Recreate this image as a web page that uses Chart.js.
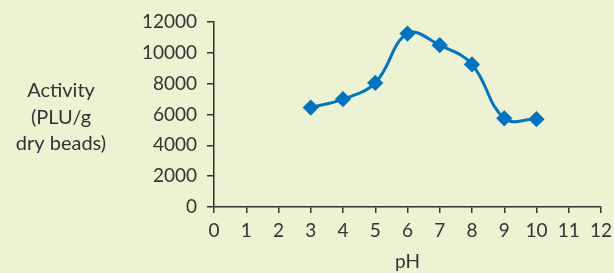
<!DOCTYPE html>
<html>
<head>
<meta charset="utf-8">
<script src="https://cdn.jsdelivr.net/npm/chart.js@4/dist/chart.umd.min.js"></script>
<style>
  html, body { margin: 0; padding: 0; background: #EDF2D3; }
  #wrap { position: relative; width: 614px; height: 273px; }
</style>
</head>
<body>
<div id="wrap"><canvas id="c" width="614" height="273"></canvas></div>
<script>
const pHValues = [3, 4, 5, 6, 7, 8, 9, 10];
const activity = [6450, 7000, 8050, 11250, 10500, 9250, 5750, 5700];
const xTicks = [0, 1, 2, 3, 4, 5, 6, 7, 8, 9, 10, 11, 12];
const yTicks = [0, 2000, 4000, 6000, 8000, 10000, 12000];
const yTitleLines = ['Activity', '(PLU/g', 'dry beads)'];
const xTitle = 'pH';

const FONT = "Lato, 'Open Sans', sans-serif";
const FSIZE = 19;
const TEXT = '#333333';

const yTitlePlugin = {
  id: 'yTitle',
  afterDraw(chart) {
    const ctx = chart.ctx;
    ctx.save();
    ctx.fillStyle = TEXT;
    ctx.font = "20px " + FONT;
    ctx.textAlign = 'center';
    ctx.textBaseline = 'middle';
    const cx = 61, top = 91, step = 26.5;
    yTitleLines.forEach((t, i) => ctx.fillText(t, cx, top + i * step));
    ctx.restore();
  }
};

new Chart(document.getElementById('c'), {
  type: 'line',
  data: {
    datasets: [{
      data: pHValues.map((x, i) => ({ x: x, y: activity[i] })),
      borderColor: '#0574BE',
      backgroundColor: '#0574BE',
      borderWidth: 3,
      tension: 0.4,
      pointStyle: 'rectRot',
      pointRadius: 6,
      pointHoverRadius: 6,
      fill: false
    }]
  },
  options: {
    responsive: false,
    animation: false,
    devicePixelRatio: 1,
    plugins: { legend: { display: false }, tooltip: { enabled: false } },
    layout: { padding: { top: 22, right: 0, left: 0, bottom: 0 } },
    scales: {
      x: {
        type: 'linear',
        min: 0, max: 12,
        afterBuildTicks(scale) { scale.ticks = xTicks.map(v => ({ value: v })); },
        afterFit(scale) { scale.height = 66; scale.paddingRight = 13; scale.paddingLeft = 0; },
        grid: { drawOnChartArea: false, drawTicks: true, tickLength: 6, color: TEXT, lineWidth: 1.5 },
        border: { display: true, color: TEXT, width: 1.5 },
        ticks: { color: TEXT, font: { family: FONT, size: FSIZE }, padding: 6, maxRotation: 0, autoSkip: false,
                 callback: v => String(v) },
        title: { display: true, text: xTitle, color: TEXT, font: { family: FONT, size: FSIZE }, padding: { top: 4, bottom: 0 } }
      },
      y: {
        type: 'linear',
        min: 0, max: 12000,
        afterBuildTicks(scale) { scale.ticks = yTicks.map(v => ({ value: v })); },
        afterFit(scale) { scale.width = 214; },
        grid: { drawOnChartArea: false, drawTicks: true, tickLength: 7, color: TEXT, lineWidth: 1.5 },
        border: { display: true, color: TEXT, width: 1.5 },
        ticks: { color: TEXT, font: { family: FONT, size: FSIZE }, padding: 10, callback: v => String(v) }
      }
    }
  },
  plugins: [yTitlePlugin]
});
</script>
</body>
</html>
